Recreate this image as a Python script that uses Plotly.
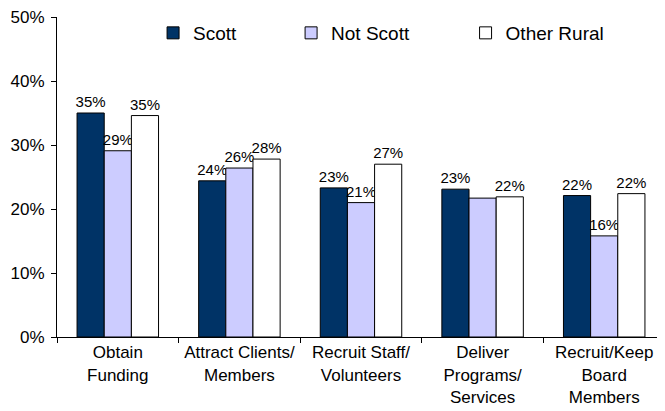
import plotly.graph_objects as go

# --- data ---
categories = ["Obtain<br>Funding", "Attract Clients/<br>Members", "Recruit Staff/<br>Volunteers",
              "Deliver<br>Programs/<br>Services", "Recruit/Keep<br>Board<br>Members"]
scott = [35.0, 24.4, 23.3, 23.1, 22.1]
not_scott = [29.1, 26.4, 21.0, 21.7, 15.8]
other_rural = [34.6, 27.8, 27.0, 21.9, 22.4]
y_ticks = [0, 10, 20, 30, 40, 50]
y_ticklabels = ["0%", "10%", "20%", "30%", "40%", "50%"]


def labels(values, hide=()):
    return ["" if i in hide else f"{v:.0f}%" for i, v in enumerate(values)]


FONT = "Liberation Sans, Arial, sans-serif"

fig = go.Figure()
series = [
    ("Scott", scott, "#003366", labels(scott), "legend"),
    ("Not Scott", not_scott, "#ccccff", labels(not_scott, hide=(3,)), "legend2"),
    ("Other Rural", other_rural, "#ffffff", labels(other_rural), "legend3"),
]
for name, vals, color, txt, leg in series:
    fig.add_trace(go.Bar(
        x=categories, y=vals, name=name,
        marker=dict(color=color, line=dict(color="black", width=1)),
        text=txt, textposition="outside", cliponaxis=False, constraintext="none",
        textfont=dict(family=FONT, size=15, color="black"),
        legend=leg, showlegend=True,
    ))

leg_common = dict(orientation="h", yanchor="middle", y=0.95, xanchor="left",
                  font=dict(family=FONT, size=19, color="black"),
                  bgcolor="rgba(0,0,0,0)")

# the page body has an 8px margin, so the figure is a bit smaller than the window
fig.update_layout(
    width=657, height=403,
    margin=dict(l=49, r=0, t=9, b=74),
    paper_bgcolor="white", plot_bgcolor="white",
    barmode="group", bargap=0.33, bargroupgap=0,
    showlegend=True,
    font=dict(family=FONT, size=17, color="black"),
    legend=dict(x=0.158, **leg_common),
    legend2=dict(x=0.385, **leg_common),
    legend3=dict(x=0.672, **leg_common),
    xaxis=dict(showline=True, linecolor="black", linewidth=1, ticks="outside",
               tickson="boundaries", ticklen=5, tickcolor="black", showgrid=False,
               tickfont=dict(family=FONT, size=17), automargin=False),
    yaxis=dict(range=[0, 50], tickvals=y_ticks, ticktext=y_ticklabels,
               showline=True, linecolor="black", linewidth=1, ticks="outside",
               ticklen=5, tickcolor="black", showgrid=False, zeroline=False,
               tickfont=dict(family=FONT, size=17), automargin=False,
               ticklabelstandoff=3, ticklabeloverflow="allow"),
)

fig.write_html("out.html")
